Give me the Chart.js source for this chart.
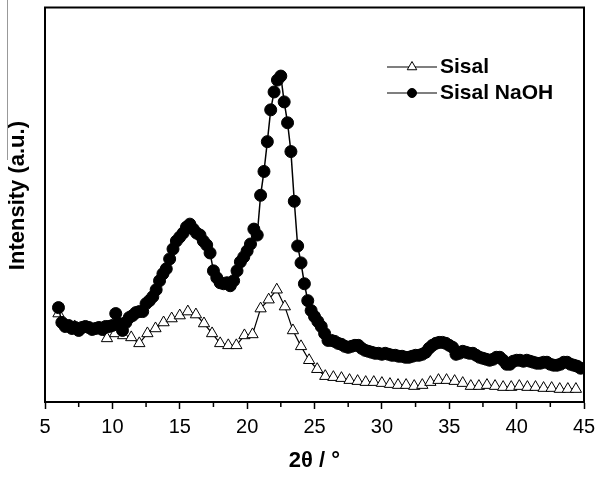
<!DOCTYPE html>
<html>
<head>
<meta charset="utf-8">
<title>XRD Sisal</title>
<script src="https://cdn.jsdelivr.net/npm/chart.js@4.4.0/dist/chart.umd.min.js"></script>
<style>
  html, body { margin: 0; padding: 0; background: #fff; }
  canvas { display: block; }
</style>
</head>
<body>
<canvas id="xrd" width="596" height="477"></canvas>
<script>
// 2theta grids: Sisal sampled every 0.6 deg from 6, NaOH every 0.25 deg from 6
const sisalStart = 6, sisalStep = 0.6
const naohStart = 6, naohStep = 0.25

const sisal = [
  89, 77, 76, 74, 74, 72, 64, 69, 67, 65,
  59, 69, 74, 80, 84, 87, 91, 88, 79, 69,
  59, 57, 57, 67, 68, 94, 103, 113, 96, 72,
  56, 42, 33, 26, 25, 24, 22, 21, 20, 20,
  19, 18, 17, 17, 16, 17, 20, 22, 22, 21,
  19, 16, 16, 17, 16, 15, 15, 16, 15, 15,
  14, 14, 13, 13, 13
]

const sisalNaoh = [
  95, 80, 76, 77,     // 6
  74, 75, 72, 75,     // 7
  76, 75, 73, 74,     // 8
  75, 73, 76, 76,     // 9
  77, 89, 79, 72,     // 10
  80, 85, 87, 90,     // 11
  91, 91, 99, 102,    // 12
  106, 113, 122, 129, // 13
  134, 144, 154, 162, // 14
  166, 170, 176, 179, // 15
  174, 170, 168, 162, // 16
  158, 150, 132, 125, // 17
  120, 119, 120, 117, // 18
  122, 132, 141, 146, // 19
  152, 159, 174, 168, // 20
  208, 232, 262, 294, // 21
  312, 324, 328, 302, // 22
  281, 252, 202, 157, // 23
  140, 119, 102, 92,  // 24
  86, 81, 76, 69,     // 25
  62, 62, 61, 59,     // 26
  58, 56, 55, 56,     // 27
  57, 57, 54, 52,     // 28
  51, 50, 49, 49,     // 29
  48, 49, 48, 47,     // 30
  47, 46, 46, 45,     // 31
  45, 46, 47, 47,     // 32
  48, 50, 54, 57,     // 33
  59, 60, 60, 59,     // 34
  57, 55, 48, 49,     // 35
  51, 50, 49, 49,     // 36
  47, 45, 44, 43,     // 37
  42, 43, 45, 45,     // 38
  42, 38, 38, 41,     // 39
  42, 42, 41, 42,     // 40
  41, 40, 39, 39,     // 41
  40, 40, 38, 37,     // 42
  37, 38, 40, 40,     // 43
  38, 37, 36, 34      // 44
]

const minorTicks = [7.5, 12.5, 17.5, 22.5, 27.5, 32.5, 37.5, 42.5]
const legendLabels = ['Sisal', 'Sisal NaOH']

const toPoints = (vals, start, step) => vals.map((v, i) => ({ x: start + i * step, y: v }))

const FONT = "'Liberation Sans', Arial, Helvetica, sans-serif"
Chart.defaults.font.family = FONT
Chart.defaults.color = '#000'

function drawMarker(ctx, style, x, y, r) {
  ctx.beginPath()
  if (style === 'triangle') {
    ctx.moveTo(x, y - r)
    ctx.lineTo(x + r * 0.866, y + r / 2)
    ctx.lineTo(x - r * 0.866, y + r / 2)
    ctx.closePath()
    ctx.fillStyle = '#fff'
  } else {
    ctx.arc(x, y, r, 0, Math.PI * 2)
    ctx.fillStyle = '#000'
  }
  ctx.fill()
  ctx.lineWidth = 1
  ctx.strokeStyle = '#000'
  ctx.stroke()
}

const extras = {
  id: 'extras',
  afterDraw(chart) {
    const { ctx, chartArea: a, scales: { x } } = chart
    ctx.save()
    // top + right frame
    ctx.strokeStyle = '#000'
    ctx.lineWidth = 2
    ctx.beginPath()
    ctx.moveTo(a.left - 1, a.top)
    ctx.lineTo(a.right, a.top)
    ctx.lineTo(a.right, a.bottom)
    ctx.stroke()
    // minor ticks
    ctx.lineWidth = 1.5
    ctx.beginPath()
    minorTicks.forEach(v => {
      const px = x.getPixelForValue(v)
      ctx.moveTo(px, a.bottom)
      ctx.lineTo(px, a.bottom + 5)
    })
    ctx.stroke()
    // stray grey rule at far left of the source figure
    ctx.strokeStyle = '#999'
    ctx.lineWidth = 1
    ctx.beginPath()
    ctx.moveTo(7.5, 0)
    ctx.lineTo(7.5, 160)
    ctx.stroke()
    // legend
    const rows = [67, 93]
    chart.data.datasets.forEach((ds, i) => {
      const y = rows[i]
      ctx.strokeStyle = '#000'
      ctx.lineWidth = 1.2
      ctx.beginPath()
      ctx.moveTo(387, y)
      ctx.lineTo(437, y)
      ctx.stroke()
      drawMarker(ctx, ds.pointStyle, 412, y, i === 0 ? 5.5 : 4.5)
      ctx.fillStyle = '#000'
      ctx.font = 'bold 21px ' + FONT
      ctx.textBaseline = 'middle'
      ctx.textAlign = 'left'
      ctx.fillText(legendLabels[i], 440, y)
    })
    ctx.restore()
  }
}

new Chart(document.getElementById('xrd'), {
  type: 'line',
  data: {
    datasets: [
      {
        label: legendLabels[0],
        data: toPoints(sisal, sisalStart, sisalStep),
        order: 1,
        borderColor: '#000',
        borderWidth: 1.2,
        pointStyle: 'triangle',
        pointRadius: 6.5,
        pointBackgroundColor: '#fff',
        pointBorderColor: '#000',
        pointBorderWidth: 1,
        tension: 0,
        fill: false
      },
      {
        label: legendLabels[1],
        data: toPoints(sisalNaoh, naohStart, naohStep),
        order: 0,
        borderColor: '#000',
        borderWidth: 1.5,
        pointStyle: 'circle',
        pointRadius: 6,
        pointBackgroundColor: '#000',
        pointBorderColor: '#000',
        pointBorderWidth: 1,
        tension: 0,
        fill: false
      }
    ]
  },
  options: {
    responsive: false,
    animation: false,
    events: [],
    layout: { padding: { top: 5, right: 12, left: 0, bottom: 0 } },
    plugins: { legend: { display: false }, tooltip: { enabled: false } },
    scales: {
      x: {
        type: 'linear',
        min: 5,
        max: 45,
        afterFit(scale) {
          scale.height = 75
          scale.paddingLeft = 0
          scale.paddingRight = 0
        },
        border: { display: true, color: '#000', width: 2 },
        grid: { drawOnChartArea: false, tickLength: 7, tickColor: '#000', tickWidth: 1.5 },
        ticks: { stepSize: 5, padding: 6, color: '#000', font: { size: 20 }, maxRotation: 0, autoSkip: false },
        title: { display: true, text: '2θ / °', color: '#000', font: { size: 22, weight: 'bold' }, padding: { top: 0, bottom: 3 } }
      },
      y: {
        type: 'linear',
        min: 0,
        max: 397,
        afterFit(scale) {
          scale.width = 45
          scale.paddingTop = 0
          scale.paddingBottom = 0
        },
        border: { display: true, color: '#000', width: 2 },
        grid: { display: false },
        ticks: { display: false },
        title: { display: true, text: '   Intensity (a.u.)', color: '#000', font: { size: 22, weight: 'bold' }, padding: { top: 5, bottom: 0 } }
      }
    }
  },
  plugins: [extras]
})
</script>
</body>
</html>
